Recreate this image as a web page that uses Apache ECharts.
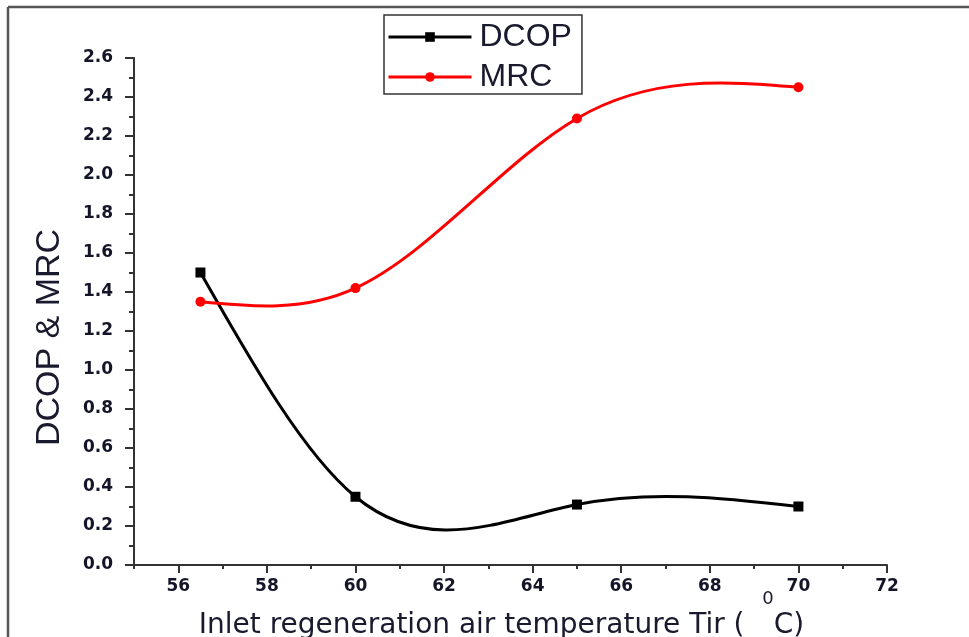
<!DOCTYPE html>
<html>
<head>
<meta charset="utf-8">
<script src="https://cdn.jsdelivr.net/npm/echarts@6/dist/echarts.min.js"></script>
<style>html,body{margin:0;padding:0;background:#fff}#c{width:969px;height:637px}</style>
</head>
<body>
<div id="c"></div>
<script>
// Data
var temperature = [56.5, 60, 65, 70];
var dcop = [1.50, 0.35, 0.31, 0.30];
var mrc = [1.35, 1.42, 2.29, 2.45];
var xMajorTicks = [56, 58, 60, 62, 64, 66, 68, 70, 72];
var xMinorTicks = [55, 57, 59, 61, 63, 65, 67, 69, 71];
var seriesNames = ['DCOP', 'MRC'];

function pairs(xs, ys) { return xs.map(function (x, i) { return [x, ys[i]]; }); }

// Natural cubic spline slopes at knots (as used by the original "spline" connector)
function splineSlopes(xs, ys) {
  var n = xs.length, h = [], d = [], i;
  for (i = 0; i < n - 1; i++) { h.push(xs[i + 1] - xs[i]); d.push((ys[i + 1] - ys[i]) / h[i]); }
  var M = new Array(n).fill(0);
  var m = n - 2;
  if (m > 0) {
    var a = [], b = [], c = [], r = [];
    for (i = 1; i <= m; i++) {
      a.push(h[i - 1]); b.push(2 * (h[i - 1] + h[i])); c.push(h[i]); r.push(6 * (d[i] - d[i - 1]));
    }
    for (i = 1; i < m; i++) { var w = a[i] / b[i - 1]; b[i] -= w * c[i - 1]; r[i] -= w * r[i - 1]; }
    var sol = new Array(m);
    sol[m - 1] = r[m - 1] / b[m - 1];
    for (i = m - 2; i >= 0; i--) sol[i] = (r[i] - c[i] * sol[i + 1]) / b[i];
    for (i = 0; i < m; i++) M[i + 1] = sol[i];
  }
  var sStart = [], sEnd = [];
  for (i = 0; i < n - 1; i++) {
    sStart.push(d[i] - h[i] * (2 * M[i] + M[i + 1]) / 6);
    sEnd.push(d[i] + h[i] * (M[i] + 2 * M[i + 1]) / 6);
  }
  return { sStart: sStart, sEnd: sEnd };
}

function splineSeries(name, xs, ys, color) {
  var sl = splineSlopes(xs, ys);
  return {
    name: name, type: 'custom', z: 2, clip: false,
    data: pairs(xs, ys),
    encode: { x: 0, y: 1 },
    renderItem: function (params, api) {
      var i = params.dataIndex;
      if (i >= xs.length - 1) return null;
      var h = xs[i + 1] - xs[i];
      var p0 = api.coord([xs[i], ys[i]]);
      var p1 = api.coord([xs[i] + h / 3, ys[i] + sl.sStart[i] * h / 3]);
      var p2 = api.coord([xs[i + 1] - h / 3, ys[i + 1] - sl.sEnd[i] * h / 3]);
      var p3 = api.coord([xs[i + 1], ys[i + 1]]);
      return {
        type: 'bezierCurve',
        shape: { x1: p0[0], y1: p0[1], x2: p3[0], y2: p3[1], cpx1: p1[0], cpy1: p1[1], cpx2: p2[0], cpy2: p2[1] },
        style: { stroke: color, lineWidth: 3, fill: null, lineCap: 'round' }
      };
    }
  };
}

var chart = echarts.init(document.getElementById('c'), null, { renderer: 'canvas' });
var labelStyle = { fontFamily: 'DejaVu Sans, Verdana', fontWeight: 'bold', fontSize: 17, color: '#15152a' };
chart.setOption({
  backgroundColor: '#fff',
  animation: false,
  grid: { left: 134, right: 82, top: 58, bottom: 72, containLabel: false, outerBoundsMode: 'none' },
  legend: {
    orient: 'vertical',
    left: 384, top: 15,
    padding: [6, 10, 1, 3],
    itemGap: 8,
    itemWidth: 83, itemHeight: 12,
    borderColor: '#333', borderWidth: 1.5,
    lineStyle: { width: 3, opacity: 1 },
    textStyle: { fontFamily: 'Liberation Sans, Arial', fontSize: 32, color: '#1a1a2e', lineHeight: 32, padding: [0, 0, 0, 3] },
    data: seriesNames
  },
  xAxis: [{
    type: 'value', min: 55, max: 72,
    axisLine: { lineStyle: { color: '#333', width: 2 } },
    axisTick: { show: true, length: 8, customValues: xMajorTicks, lineStyle: { color: '#333', width: 2 } },
    axisLabel: Object.assign({ margin: 13, customValues: xMajorTicks }, labelStyle),
    splitLine: { show: false },
    name: '{t|Inlet regeneration air temperature Tir (  }{s|0}{t|C)}',
    nameLocation: 'middle', nameGap: 25, nameMoveOverlap: false,
    nameTextStyle: {
      padding: [0, 18, 0, 0],
      rich: {
        t: { fontFamily: 'DejaVu Sans, Verdana', fontSize: 28, color: '#1a1a2e' },
        s: { fontFamily: 'DejaVu Sans, Verdana', fontSize: 18, color: '#1a1a2e', padding: [0, 0, 54, 0] }
      }
    }
  }, {
    type: 'value', min: 55, max: 72, position: 'bottom',
    axisLine: { show: false },
    axisTick: { show: true, length: 4, customValues: xMinorTicks, lineStyle: { color: '#333', width: 2 } },
    axisLabel: { show: false },
    splitLine: { show: false }
  }],
  yAxis: {
    type: 'value', min: 0, max: 2.6, interval: 0.2,
    axisLine: { show: true, lineStyle: { color: '#333', width: 2 } },
    axisTick: { show: true, length: 9, lineStyle: { color: '#333', width: 2 } },
    minorTick: { show: true, splitNumber: 2, length: 5, lineStyle: { color: '#333', width: 2 } },
    axisLabel: Object.assign({ margin: 21, formatter: function (v) { return v.toFixed(1); } }, labelStyle),
    splitLine: { show: false },
    name: 'DCOP & MRC',
    nameLocation: 'middle', nameGap: 67, nameMoveOverlap: false,
    nameTextStyle: { fontFamily: 'Liberation Sans, Arial', fontSize: 34, color: '#1a1a2e', padding: [0, 0, 0, -52] }
  },
  series: [{
    name: seriesNames[0], type: 'line', z: 3,
    data: pairs(temperature, dcop),
    symbol: 'rect', symbolSize: 10,
    lineStyle: { color: '#000', width: 3, opacity: 0 },
    itemStyle: { color: '#000' }
  }, {
    name: seriesNames[1], type: 'line', z: 3,
    data: pairs(temperature, mrc),
    symbol: 'circle', symbolSize: 10,
    lineStyle: { color: '#ff0000', width: 3, opacity: 0 },
    itemStyle: { color: '#ff0000' }
  },
  splineSeries('DCOP curve', temperature, dcop, '#000'),
  splineSeries('MRC curve', temperature, mrc, '#ff0000')
  ],
  graphic: [
    { type: 'line', shape: { x1: 8, y1: 7, x2: 969, y2: 7 }, style: { stroke: '#555', lineWidth: 2.5 } },
    { type: 'line', shape: { x1: 8, y1: 7, x2: 8, y2: 637 }, style: { stroke: '#555', lineWidth: 2.5 } }
  ]
});
</script>
</body>
</html>
